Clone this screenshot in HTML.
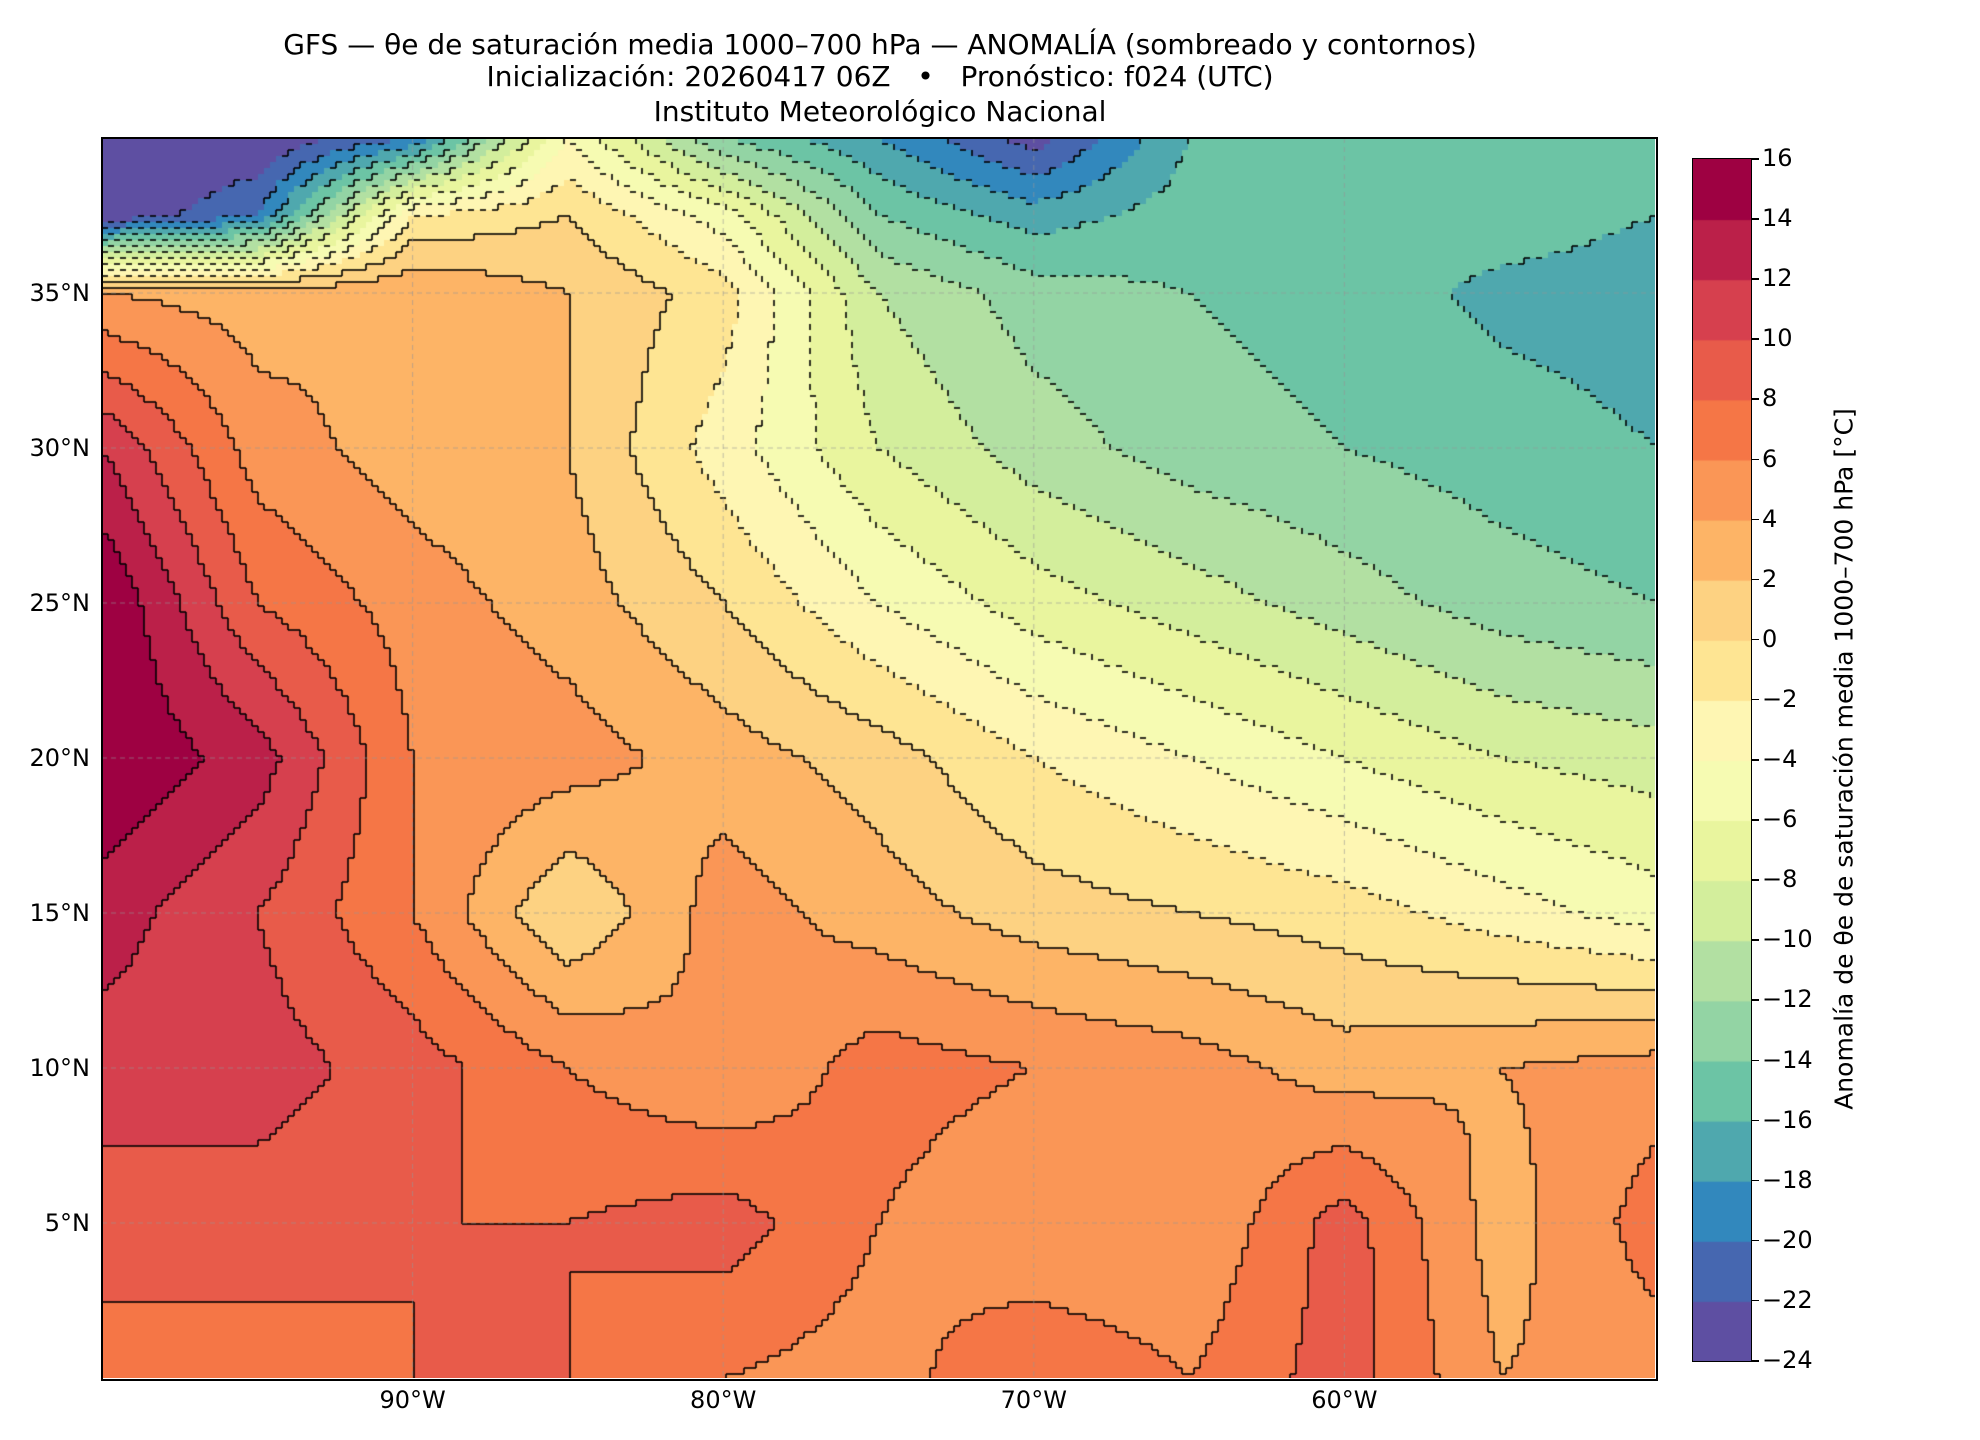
<!DOCTYPE html>
<html><head><meta charset="utf-8">
<style>
html,body{margin:0;padding:0;background:#fff;}
body{width:1980px;height:1440px;position:relative;overflow:hidden;font-family:"DejaVu Sans","Liberation Sans",sans-serif;color:#000;}
.t{position:absolute;left:0;width:1760px;text-align:center;font-size:28px;white-space:nowrap;}
.yl{position:absolute;right:1890px;font-size:24px;transform:translateY(-50%);}
.xl{position:absolute;top:1386px;font-size:24px;transform:translateX(-50%);}
.cl{position:absolute;left:1762px;font-size:24px;transform:translateY(-50%);}
</style></head><body>
<div class="t" style="top:28px">GFS — θe de saturación media 1000–700 hPa — ANOMALÍA (sombreado y contornos)</div>
<div class="t" style="top:60px">Inicialización: 20260417 06Z &nbsp; • &nbsp; Pronóstico: f024 (UTC)</div>
<div class="t" style="top:95px">Instituto Meteorológico Nacional</div>
<canvas id="map" width="1553" height="1240" style="position:absolute;left:102px;top:138px;"></canvas>
<div style="position:absolute;left:101px;top:137px;width:1553px;height:1240px;border:2px solid #000;"></div>
<div id="axes"></div>
<canvas id="cbar" width="58" height="1202" style="position:absolute;left:1692px;top:158px;border:1.5px solid #000;"></canvas>
<div style="position:absolute;left:1844px;top:759px;transform:translate(-50%,-50%) rotate(-90deg);white-space:nowrap;font-size:25px;">Anomalía de θe de saturación media 1000–700 hPa [°C]</div>
<script>
const lons=[-100,-95,-90,-85,-80,-75,-70,-65,-60,-55,-50];
const lats=[40,37.5,35,30,25,20,15,10,5,0];
const anom40 =[-24,-24,-20,-4,-14,-18,-23,-16,-16,-14,-15];
const anom375=[-24,-20,-2,0,-5,-14,-17,-15,-15,-15,-16];
const anom35 =[4,3,4,2,-1,-10,-13,-14,-15,-16.5,-17];
const anom30 =[12,5,3,2,-3,-8,-11,-13,-14,-15,-16];
const anom25 =[16,8,5,3,0,-4,-7,-9,-11,-13,-14];
const anom20 =[16,13,6,5,3,1,-2,-4,-6,-8,-9];
const anom15 =[13,10,6,0,5,3,1,0,-1,-3,-5];
const anom10 =[11,11,9,6,4,7,6,5,3,4,5];
const anom5  =[9,9,8,8,9,6,4,4,9,3,7];
const anom0  =[7,7,8,8,6,5,8,6,9,4,5];
const grid=[anom40,anom375,anom35,anom30,anom25,anom20,anom15,anom10,anom5,anom0];
const levels=[-24,-22,-20,-18,-16,-14,-12,-10,-8,-6,-4,-2,0,2,4,6,8,10,12,14,16];
const colors=["#5e4fa2","#4667b0","#3288bd","#4fa8ae","#6cc4a5","#93d4a4","#b2e0a2","#d3ee9c","#e9f59e","#f6fbb2","#fef6b3","#fee593","#fdd282","#fdb466","#fa9656","#f57646","#e85b4a","#d6404e","#bb2049","#9e0142"];
const xTicks=[-90,-80,-70,-60];
const yTicks=[5,10,15,20,25,30,35];

const L=102,T=138,W=1553,H=1240,lon0=-100,lon1=-50,lat0=0,lat1=40;
const xs=lon=>(lon-lon0)/(lon1-lon0)*W;
const ys=lat=>(lat1-lat)/(lat1-lat0)*H;
function seg(arr,v,desc){for(let i=0;i<arr.length-1;i++){const a=arr[i],b=arr[i+1];if(desc?(v<=a&&v>=b):(v>=a&&v<=b))return [i,(v-a)/(b-a)];}return [arr.length-2,1];}
function val(lon,lat){const [i,fx]=seg(lons,lon,false);const [j,fy]=seg(lats,lat,true);
 const a=grid[j][i],b=grid[j][i+1],c=grid[j+1][i],d=grid[j+1][i+1];
 return a*(1-fx)*(1-fy)+b*fx*(1-fy)+c*(1-fx)*fy+d*fx*fy;}
function band(v){let k=Math.floor((v-levels[0])/2);return Math.max(0,Math.min(colors.length-1,k));}
const cv=document.getElementById('map'),ctx=cv.getContext('2d');
const B=6,nx=Math.ceil(W/B),ny=Math.ceil(H/B);const bd=[];
for(let j=0;j<ny;j++){bd.push([]);for(let i=0;i<nx;i++){
 const lon=lon0+(i+0.5)*B/W*(lon1-lon0),lat=lat1-(j+0.5)*B/H*(lat1-lat0);
 const k=band(val(lon,lat));bd[j].push(k);ctx.fillStyle=colors[k];ctx.fillRect(i*B,j*B,B,B);}}
ctx.strokeStyle="#000";ctx.lineWidth=1.6;
for(let j=0;j<ny;j++)for(let i=0;i<nx;i++){const k=bd[j][i];
 if(i<nx-1&&bd[j][i+1]!==k){const lv=levels[Math.max(k,bd[j][i+1])];if(lv>=0||(i+j)%2==0){ctx.beginPath();ctx.moveTo((i+1)*B,j*B);ctx.lineTo((i+1)*B,(j+1)*B);ctx.stroke();}}
 if(j<ny-1&&bd[j+1][i]!==k){const lv=levels[Math.max(k,bd[j+1][i])];if(lv>=0||(i+j)%2==0){ctx.beginPath();ctx.moveTo(i*B,(j+1)*B);ctx.lineTo((i+1)*B,(j+1)*B);ctx.stroke();}}}
ctx.strokeStyle="rgba(150,150,150,0.6)";ctx.lineWidth=1;ctx.setLineDash([5,4]);
xTicks.forEach(l=>{ctx.beginPath();ctx.moveTo(xs(l),0);ctx.lineTo(xs(l),H);ctx.stroke();});
yTicks.forEach(l=>{ctx.beginPath();ctx.moveTo(0,ys(l));ctx.lineTo(W,ys(l));ctx.stroke();});
const ax=document.getElementById('axes');
xTicks.forEach(l=>{const d=document.createElement('div');d.className='xl';d.style.left=(L+xs(l))+'px';d.textContent=Math.abs(l)+'°W';

ax.appendChild(d);});
yTicks.forEach(l=>{const d=document.createElement('div');d.className='yl';d.style.top=(T+ys(l))+'px';d.textContent=l+'°N';

ax.appendChild(d);});
const cb=document.getElementById('cbar'),cc=cb.getContext('2d');const ch=1202/colors.length;
colors.forEach((c,i)=>{cc.fillStyle=c;cc.fillRect(0,1202-(i+1)*ch,58,ch+1);});
levels.forEach((lv,i)=>{const y=158+1202-i*ch;const d=document.createElement('div');d.className='cl';d.style.top=y+'px';d.textContent=(lv<0?'−':'')+Math.abs(lv);

ax.appendChild(d);
const t=document.createElement('div');t.style.cssText='position:absolute;left:1751px;width:8px;height:1.5px;background:#000;top:'+y+'px';

ax.appendChild(t);});
</script>
</body></html>
